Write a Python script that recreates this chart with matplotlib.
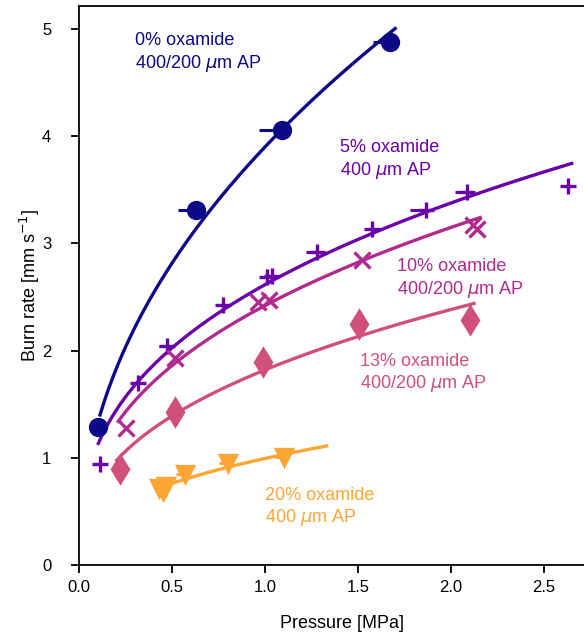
import numpy as np
import matplotlib
matplotlib.use("Agg")
import matplotlib.pyplot as plt

plt.rcParams['font.family'] = ['Liberation Sans', 'DejaVu Sans']
plt.rcParams['mathtext.fontset'] = 'dejavusans'

# ---- data (pressure MPa, burn rate mm/s, left x-error MPa) ----
p0 = [0.10, 0.63, 1.09, 1.67]
r0 = [1.29, 3.31, 4.06, 4.88]
e0 = [0.0, 0.10, 0.12, 0.09]

p5 = [0.113, 0.319, 0.471, 0.776, 1.01, 1.04, 1.278, 1.575, 1.866, 2.088, 2.63]
r5 = [0.94, 1.70, 2.04, 2.43, 2.69, 2.70, 2.92, 3.13, 3.31, 3.48, 3.535]
e5 = [0.0, 0.0, 0.04, 0.0, 0.0, 0.0, 0.06, 0.0, 0.086, 0.066, 0.0]

p10 = [0.253, 0.516, 0.96, 1.02, 1.52, 2.12, 2.14]
r10 = [1.28, 1.93, 2.45, 2.47, 2.845, 3.17, 3.13]
e10 = [0, 0, 0, 0, 0, 0, 0]

p13 = [0.22, 0.516, 0.989, 1.505, 2.10]
r13 = [0.90, 1.43, 1.89, 2.25, 2.29]
e13 = [0, 0, 0, 0, 0]

p20 = [0.43, 0.45, 0.47, 0.57, 0.80, 1.10]
r20 = [0.72, 0.69, 0.74, 0.85, 0.95, 1.01]
e20 = [0.0, 0.0, 0.0, 0.05, 0.05, 0.045]

# fit curves r = a * P**n + c over [pmin, pmax]
fit_a = [3.90, 2.615, 2.42, 1.82, 0.994]
fit_n = [0.47, 0.369, 0.380, 0.389, 0.386]
fit_c = [0.0, 0.0, 0.0, 0.0, 0.0]
fit_pmin = [0.113, 0.104, 0.211, 0.203, 0.45]
fit_pmax = [1.70, 2.649, 2.156, 2.124, 1.332]

labels = ["0% oxamide\n400/200 $\\mu$m AP",
          "5% oxamide\n400 $\\mu$m AP",
          "10% oxamide\n400/200 $\\mu$m AP",
          "13% oxamide\n400/200 $\\mu$m AP",
          "20% oxamide\n400 $\\mu$m AP"]
label_x = [0.30, 1.405, 1.71, 1.51, 1.00]
label_y = [4.97, 3.97, 2.86, 1.98, 0.73]

colors = ["#0d0887", "#6a00a8", "#b12a90", "#d0507a", "#fca636"]
markers = ["o", "+", "x", "d", "v"]
msizes = [11.5, 12, 12, 13, 11]

series = [(p0, r0, e0), (p5, r5, e5), (p10, r10, e10), (p13, r13, e13), (p20, r20, e20)]

fig = plt.figure(figsize=(5.84, 6.35), dpi=100)
ax = fig.add_axes([79/584, 70/635, 525.6/584, 559/635])

for i, (p, r, e) in enumerate(series):
    p = np.array(p); r = np.array(r); e = np.array(e)
    col = colors[i]
    ax.errorbar(p, r, xerr=[e, np.zeros_like(e)], fmt='none', ecolor=col,
                elinewidth=2.2, capsize=0, zorder=3)
    ax.plot(p, r, linestyle='none', marker=markers[i], color=col,
            markersize=msizes[i], markeredgewidth=2.4, zorder=4)
    pp = np.linspace(fit_pmin[i], fit_pmax[i], 200)
    ax.plot(pp, fit_a[i] * pp ** fit_n[i] + fit_c[i], color=col, lw=2.4, zorder=2)
    ax.text(label_x[i], label_y[i], labels[i], color=col, fontsize=13,
            ha='left', va='top', linespacing=1.25)

ax.set_xlim(0, 525.6 / 186)
ax.set_ylim(0, 559 / 107.2)
ax.set_xticks([0.0, 0.5, 1.0, 1.5, 2.0, 2.5])
ax.set_xticklabels(["0.0", "0.5", "1.0", "1.5", "2.0", "2.5"])
ax.set_yticks([0, 1, 2, 3, 4, 5])
ax.tick_params(axis='both', direction='out', length=6, width=1.3, labelsize=12,
               top=False, right=False)
ax.tick_params(axis='x', pad=5)
ax.tick_params(axis='y', pad=14)
for s in ax.spines.values():
    s.set_linewidth(1.3)
ax.set_xlabel("Pressure [MPa]", fontsize=13, labelpad=14)
ax.set_ylabel("Burn rate [mm s$^{-1}$]", fontsize=13, labelpad=0)

fig.savefig("out.png", dpi=100)
